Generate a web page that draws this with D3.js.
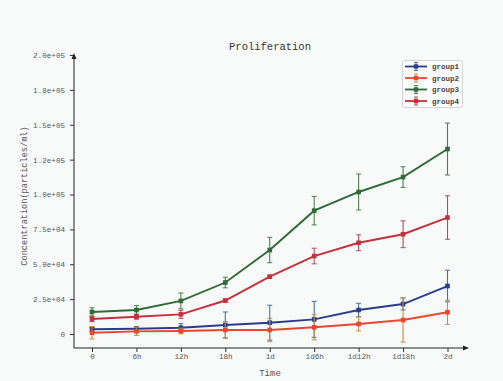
<!DOCTYPE html>
<html><head><meta charset="utf-8">
<script src="https://cdn.jsdelivr.net/npm/d3@7"></script>
<style>html,body{margin:0;padding:0;background:#f8faf9;}svg{display:block;}</style>
</head><body>
<script>
const categories = ["0","6h","12h","18h","1d","1d6h","1d12h","1d18h","2d"];
const groupNames = ["group1","group2","group3","group4"];
const group1 = [3400,3800,4500,6500,8100,10500,17200,21500,34400];
const group1Err = [1400,1400,2900,9300,12500,12900,4800,4300,11300];
const group2 = [900,1900,2150,2900,2900,4800,7200,10000,15600];
const group2Err = [4500,2900,2000,6000,8400,9000,5000,15800,8700];
const group3 = [15800,17200,23700,36900,60200,88400,101800,112500,132600];
const group3Err = [3000,3200,5700,3800,9100,10200,12900,7400,18600];
const group4 = [10800,12400,14100,24000,41100,55900,65400,71500,83500];
const group4Err = [2000,1800,2900,1000,1000,5600,5700,9600,15600];
const yTicks = [0,25000,50000,75000,100000,125000,150000,175000,200000];
const yTickLabels = ["0","2.5e+04","5.0e+04","7.5e+04","1.0e+05","1.2e+05","1.5e+05","1.8e+05","2.0e+05"];

const series = [
  {name:groupNames[0], v:group1, e:group1Err, line:"#2b3c8a", err:"#3f73a8"},
  {name:groupNames[1], v:group2, e:group2Err, line:"#e9462d", err:"#c98b3e"},
  {name:groupNames[2], v:group3, e:group3Err, line:"#2f6a37", err:"#4d7f4b"},
  {name:groupNames[3], v:group4, e:group4Err, line:"#c4303b", err:"#b94b58"}
];

const W=503,H=381, font="'Liberation Mono','DejaVu Sans Mono',monospace";
const svg=d3.select("body").append("svg").attr("width",W).attr("height",H);
svg.append("rect").attr("width",W).attr("height",H).attr("fill","#f8faf9");

const x0=74, x1=467, yBase=348, yTop=55;
const x=d3.scalePoint().domain(categories).range([92,447.5]);
const y=d3.scaleLinear().domain([0,200000]).range([334,55]);

// axes
const yAxis=d3.axisLeft(y).tickValues(yTicks).tickFormat((d,i)=>yTickLabels[i]).tickSize(4).tickSizeOuter(0);
const gy=svg.append("g").attr("transform",`translate(${x0},0)`).call(yAxis);
gy.select(".domain").remove();
gy.selectAll("text").attr("font-family",font).attr("font-size",7.6).attr("fill","#555").attr("dx",-2);
gy.selectAll("line").attr("stroke","#333");
const xAxis=d3.axisBottom(x).tickSize(4).tickSizeOuter(0);
const gx=svg.append("g").attr("transform",`translate(0,${yBase})`).call(xAxis);
gx.select(".domain").remove();
gx.selectAll("text").attr("font-family",font).attr("font-size",7.6).attr("fill","#555").attr("dy","0.5em");
gx.selectAll("line").attr("stroke","#333");

svg.append("line").attr("x1",x0).attr("x2",x0).attr("y1",yBase).attr("y2",yTop+2).attr("stroke","#222").attr("stroke-width",1);
svg.append("line").attr("x1",x0).attr("x2",x1-2).attr("y1",yBase).attr("y2",yBase).attr("stroke","#222").attr("stroke-width",1);
svg.append("path").attr("d",`M${x0},${yTop-2} L${x0-2.5},${yTop+4} L${x0+2.5},${yTop+4}Z`).attr("fill","#222");
svg.append("path").attr("d",`M${x1+2},${yBase} L${x1-4},${yBase-2.5} L${x1-4},${yBase+2.5}Z`).attr("fill","#222");

// title & labels
svg.append("text").attr("x",270).attr("y",50).attr("text-anchor","middle").attr("font-family",font).attr("font-size",10.5).attr("fill","#333").text("Proliferation");
svg.append("text").attr("x",270).attr("y",376).attr("text-anchor","middle").attr("font-family",font).attr("font-size",9).attr("fill","#555").text("Time");
svg.append("text").attr("transform","translate(27,196) rotate(-90)").attr("text-anchor","middle").attr("font-family",font).attr("font-size",8.6).attr("fill","#555").text("Concentration(particles/ml)");

// series
const line=d3.line().x((d,i)=>x(categories[i])).y(d=>y(d));
series.forEach(s=>{
  const g=svg.append("g");
  s.v.forEach((v,i)=>{
    const cx=x(categories[i]);
    g.append("line").attr("x1",cx).attr("x2",cx).attr("y1",y(v-s.e[i])).attr("y2",y(v+s.e[i])).attr("stroke",s.err).attr("stroke-width",1.1);
    [v-s.e[i],v+s.e[i]].forEach(t=>g.append("line").attr("x1",cx-2.5).attr("x2",cx+2.5).attr("y1",y(t)).attr("y2",y(t)).attr("stroke",s.err).attr("stroke-width",1));
  });
  g.append("path").attr("d",line(s.v)).attr("fill","none").attr("stroke",s.line).attr("stroke-width",1.9);
  g.selectAll("rect").data(s.v).join("rect").attr("x",(d,i)=>x(categories[i])-2.3).attr("y",d=>y(d)-2.3).attr("width",4.6).attr("height",4.6).attr("fill",s.line);
});

// legend
const lg=svg.append("g");
lg.append("rect").attr("x",402.5).attr("y",60.5).attr("width",60).attr("height",47).attr("rx",2).attr("fill","#fbfcfc").attr("stroke","#ccc").attr("stroke-width",0.8);
series.forEach((s,i)=>{
  const ly=66.5+i*11.5;
  lg.append("line").attr("x1",405).attr("x2",427).attr("y1",ly).attr("y2",ly).attr("stroke",s.line).attr("stroke-width",1.8);
  lg.append("line").attr("x1",416).attr("x2",416).attr("y1",ly-4).attr("y2",ly+4).attr("stroke",s.err).attr("stroke-width",1);
  lg.append("line").attr("x1",414).attr("x2",418).attr("y1",ly-4).attr("y2",ly-4).attr("stroke",s.err).attr("stroke-width",1);
  lg.append("line").attr("x1",414).attr("x2",418).attr("y1",ly+4).attr("y2",ly+4).attr("stroke",s.err).attr("stroke-width",1);
  lg.append("rect").attr("x",413.8).attr("y",ly-2.2).attr("width",4.4).attr("height",4.4).attr("fill",s.line);
  lg.append("text").attr("x",432).attr("y",ly+2.6).attr("font-family",font).attr("font-size",7.5).attr("font-weight","bold").attr("fill","#444").text(s.name);
});
</script>
</body></html>
